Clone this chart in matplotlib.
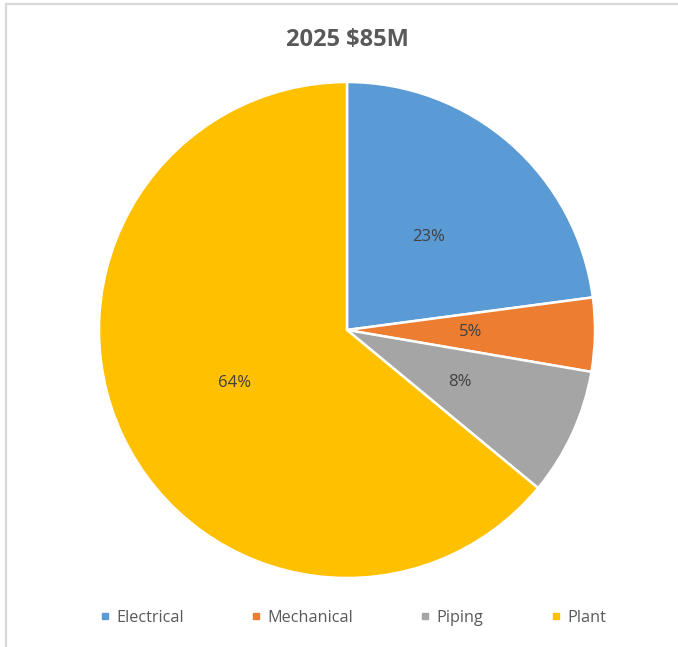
import matplotlib.pyplot as plt
from matplotlib.lines import Line2D

# Данні для кругової діаграми
categories = ['Electrical', 'Mechanical', 'Piping', 'Plant']
shares = [22.9, 4.8, 8.3, 64.0]
colors = ['#5b9bd5', '#ed7d31', '#a5a5a5', '#ffc000']
title = '2025 $85M'

plt.rcParams['font.family'] = ['Open Sans', 'DejaVu Sans']

fig = plt.figure(figsize=(6.78, 6.47), dpi=100)

# Рамка області діаграми (видно лише верх і лівий край)
fig.add_artist(Line2D([6 / 678, 6 / 678], [0, 1 - 4 / 647],
                      color='#d9d9d9', lw=1.6, transform=fig.transFigure))
fig.add_artist(Line2D([6 / 678, 1], [1 - 4 / 647, 1 - 4 / 647],
                      color='#d9d9d9', lw=1.6, transform=fig.transFigure))

ax = fig.add_axes([99 / 678, 69 / 647, 496 / 678, 496 / 647])
wedges, texts, autotexts = ax.pie(
    shares, colors=colors, startangle=90, counterclock=False,
    autopct='%.0f%%', pctdistance=0.5,
    wedgeprops=dict(edgecolor='white', linewidth=1.8),
    textprops=dict(color='#404040', fontsize=12))
ax.set_xlim(-1, 1)
ax.set_ylim(-1, 1)
ax.set_aspect('equal')

fig.text(347 / 678, 1 - 40 / 647, title, ha='center', va='center',
         fontsize=17, fontweight='bold', color='#595959')

handles = [Line2D([], [], marker='s', linestyle='none', markersize=5,
                  markerfacecolor=c, markeredgecolor=c) for c in colors]
leg = fig.legend(handles, categories, loc='center', ncol=4,
                 bbox_to_anchor=(353 / 678, 1 - 618 / 647), frameon=False,
                 handlelength=0.6, handletextpad=0.4, columnspacing=4.15,
                 fontsize=11.7)
for t in leg.get_texts():
    t.set_color('#595959')

fig.savefig('out.png', dpi=100)
